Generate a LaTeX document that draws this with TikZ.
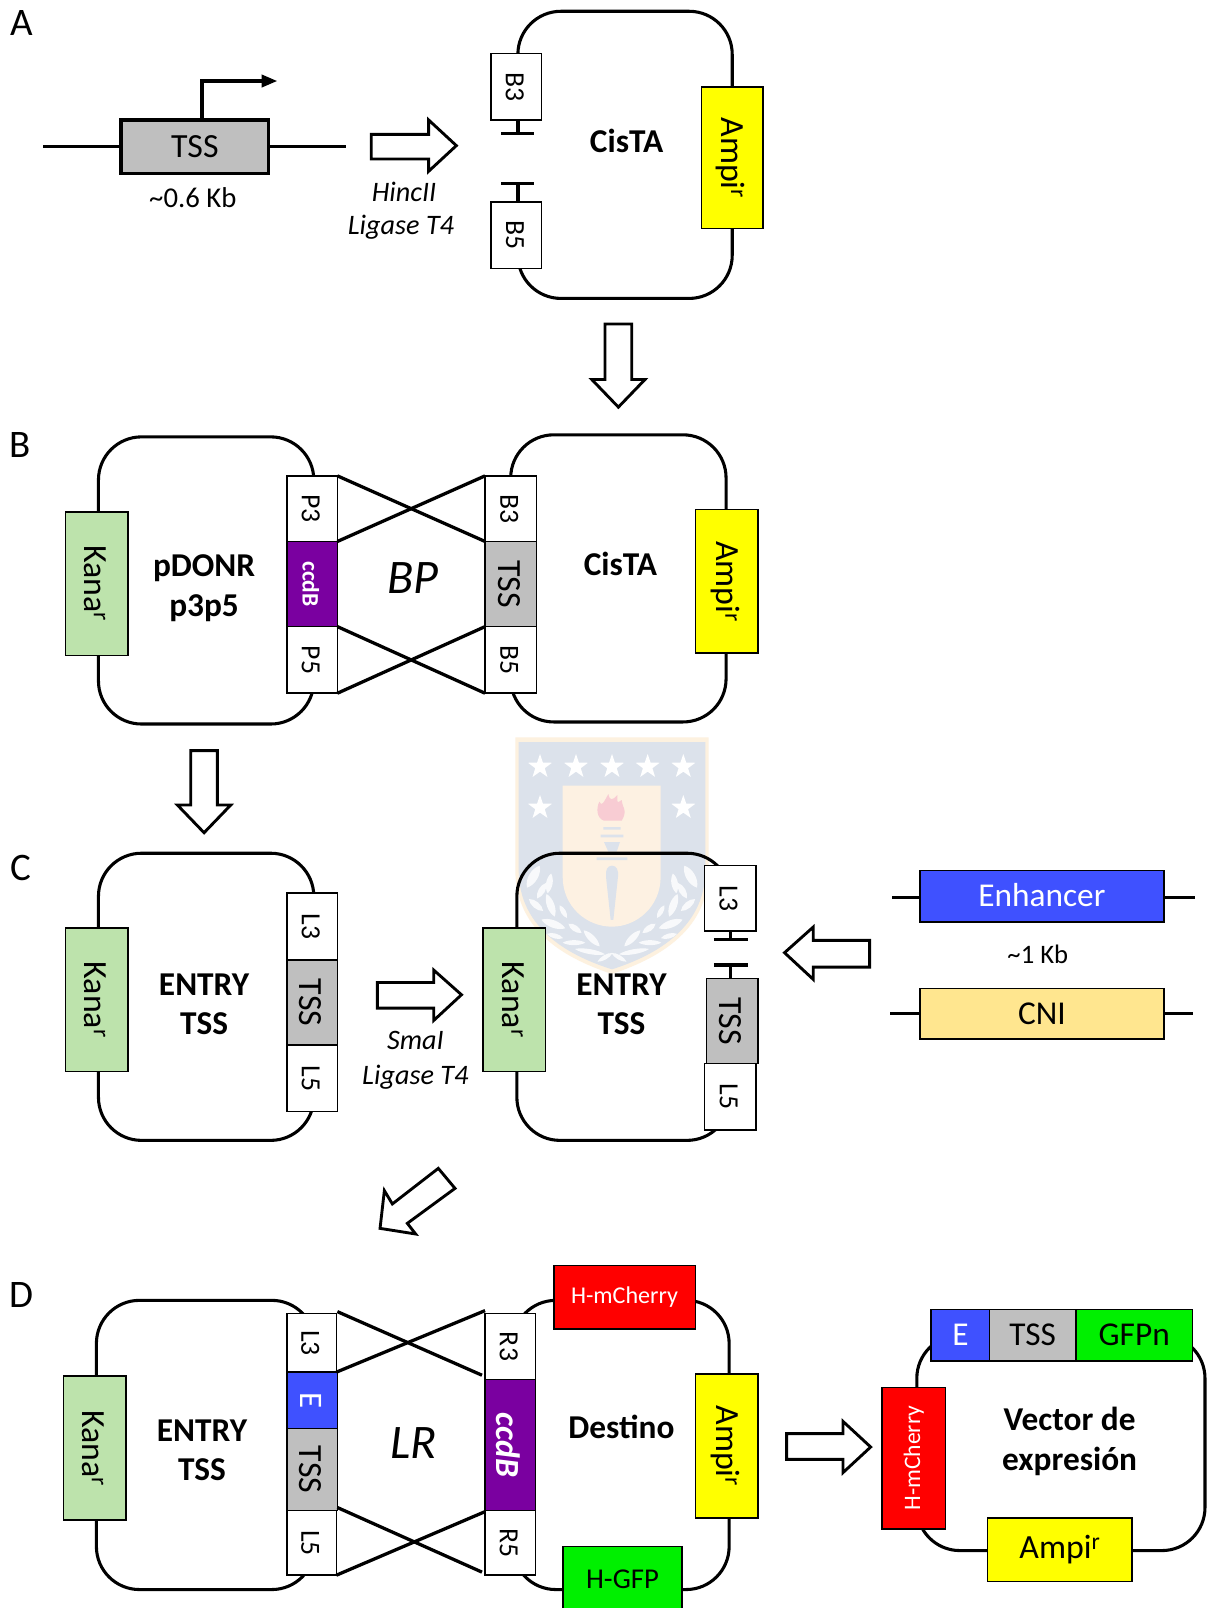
\documentclass[tikz,border=0pt]{standalone}
\usepackage{fontspec}
\usepackage{graphicx}
\setmainfont{Carlito}
\newcommand{\fsz}[1]{\fontsize{#1}{#1}\selectfont}
\newcommand{\rottext}[1]{\hspace*{-3pt}\rotatebox{-90}{#1}}
\newcommand{\rotup}[1]{\rotatebox{90}{#1}}
\newcommand{\mybox}[7]{%
  \pgfmathsetmacro\bxw{#4-#2}\pgfmathsetmacro\bxh{#5-#3}%
  \pgfmathsetmacro\bxx{(#2+#4)/2}\pgfmathsetmacro\bxy{(#3+#5)/2}%
  \node[box,minimum width=\bxw pt,minimum height=\bxh pt,#6] (#1) at (\bxx,\bxy) {#7};}
\newcommand{\wstar}[2]{\fill[white] (#1,#2) +(-90:38) -- +(-126:15) -- +(-162:38) -- +(-198:15) -- +(-234:38) -- +(-270:15) -- +(-306:38) -- +(-342:15) -- +(-18:38) -- +(-54:15) -- cycle;}
\newcommand{\leaf}[5]{\fill[white,opacity=.8,shift={(#1,#2)},rotate=#3] (-#4,0) .. controls (-#4/2,#5) and (#4/2,#5) .. (#4,0) .. controls (#4/2,-#5) and (-#4/2,-#5) .. (-#4,0) -- cycle;}
\newcommand{\laurel}{%
  \leaf{160}{470}{60}{38}{18}\leaf{208}{490}{80}{30}{13}\leaf{185}{512}{60}{27}{13}
  \leaf{212}{556}{-70}{36}{15}\leaf{168}{555}{-40}{28}{13}\leaf{250}{575}{-60}{22}{10}
  \leaf{220}{612}{-20}{38}{15}\leaf{285}{625}{-35}{24}{12}\leaf{225}{648}{-15}{25}{10}
  \leaf{335}{655}{-45}{34}{13}\leaf{282}{668}{0}{34}{10}\leaf{330}{695}{-10}{46}{10}
  \leaf{375}{712}{30}{26}{9}}
\definecolor{ggray}{HTML}{BFBFBF}
\definecolor{kana}{HTML}{BDE3AC}
\definecolor{ampi}{HTML}{FFFF00}
\definecolor{purp}{HTML}{7A00A0}
\definecolor{blu}{HTML}{3F51FF}
\definecolor{cni}{HTML}{FFE68F}
\definecolor{gfp}{HTML}{00F000}
\definecolor{wmo}{HTML}{FDF1DF}
\definecolor{wmb}{HTML}{DCE2EB}
\definecolor{wmc}{HTML}{FDF1E2}
\definecolor{wmf}{HTML}{F8CCD3}
\tikzset{
  box/.style={draw=black,line width=1.5pt,fill=white,inner sep=0pt,outer sep=0pt,font=\fsz{27}},
  plasmid/.style={draw=black,line width=3pt,fill=none,rounded corners=42pt},
  lab/.style={fill=ggray},
  kanabox/.style={fill=kana,font=\fsz{33}},
  ampibox/.style={fill=ampi,font=\fsz{33}},
  title/.style={font=\bfseries\fsz{32.5},inner sep=0pt},
  ital/.style={font=\itshape\fsz{27.5},inner sep=0pt},
  letter/.style={font=\fsz{38},inner sep=0pt},
  wire/.style={line width=3.2pt,line cap=butt},
  cross/.style={line width=3.2pt},
  bigarrow/.style={draw=black,line width=2.8pt,fill=white,line join=miter},
}
\begin{document}
\begin{tikzpicture}[x=1pt,y=-1pt]
\clip (0,0) rectangle (1177,1568);
\fill[white] (0,0) rectangle (1177,1568);
% watermark
\begin{scope}[shift={(468.07,702.1)},scale=0.325]
  \fill[wmo] (106,52) -- (686,52) -- (686,450) .. controls (686,640) and (520,720) .. (396,762) .. controls (270,720) and (106,640) .. (106,450) -- cycle;
  \fill[wmb] (116,66) -- (676,66) -- (676,450) .. controls (676,630) and (515,710) .. (396,748) .. controls (275,710) and (116,630) .. (116,450) -- cycle;
  \fill[wmc] (248,197) -- (542,197) -- (542,470) .. controls (542,560) and (470,620) .. (396,620) .. controls (320,620) and (248,560) .. (248,470) -- cycle;
  \wstar{180}{140}\wstar{288}{140}\wstar{396}{140}\wstar{503}{140}\wstar{610}{140}\wstar{180}{263}\wstar{610}{263}
  \fill[wmf] (372,302) .. controls (350,295) and (348,265) .. (358,245) .. controls (365,260) and (370,250) .. (385,222) .. controls (390,245) and (398,240) .. (412,225) .. controls (415,240) and (405,255) .. (425,240) .. controls (425,260) and (445,270) .. (425,302) -- cycle;
  \fill[wmb] (370,321) rectangle (422,329) (362,344) rectangle (430,352) (372,366) -- (420,366) -- (410,395) -- (385,395) -- cycle (350,412) rectangle (442,420);
  \fill[wmb] (396,437) .. controls (410,437) and (416,450) .. (414,470) -- (400,600) -- (392,600) -- (378,470) .. controls (376,450) and (382,437) .. (396,437) -- cycle;
  \laurel
  \begin{scope}[shift={(792,0)},xscale=-1]\laurel\end{scope}
\end{scope}

% Panel letters
\node[letter] (lA) at (21,22) {A};
\node[letter] (lB) at (20,434) {B};
\node[letter] (lC) at (20,846) {C};
\node[letter] (lD) at (21,1263) {D};

% Panel A
\coordinate (aL) at (42,143);
\coordinate (aR) at (337,143);
\coordinate (aUp) at (197,79);
\coordinate (aEnd) at (270,79);
\mybox{aTSS}{118}{117}{262}{169}{lab,line width=3.2pt,font=\fsz{33}}{TSS}
\draw[wire] (aL) -- (aTSS.west);
\draw[wire] (aTSS.east) -- (aR);
\draw[line width=3.2pt] (aTSS.north -| aUp) -- (aUp) -- (256,79);
\fill (255,72.5) -- (aEnd) -- (255,85.5) -- cycle;
\node[font=\fsz{28},inner sep=0pt] (a06) at (188,193) {\textasciitilde 0.6 Kb};
\draw[bigarrow] (362,131) -- (418,131) -- (418,117) -- (445,142) -- (418,167) -- (418,155) -- (362,155) -- cycle;
\node[ital] (aH) at (394,187) {HincII};
\node[ital] (aLi) at (391,222) {Ligase T4};
\mybox{aPl}{505}{11}{714}{291}{plasmid}{}
\fill[white] (500,117) rectangle (512,197);
\mybox{aB3}{479}{52}{528}{117}{}{\rottext{B3}}
\mybox{aB5}{479}{197}{528}{262}{}{\rottext{B5}}
\coordinate (aT1) at (505,130);
\coordinate (aT2) at (505,179);
\draw[wire] (505,117) -- (aT1);
\draw[wire] (505,197) -- (aT2);
\draw[wire] (489,130) -- (521,130);
\draw[wire] (489,179) -- (521,179);
\mybox{aAmp}{684}{85}{744}{223}{ampibox}{\rottext{Ampi\textsuperscript{r}}}
\node[title] (aCis) at (611,137) {CisTA};
\draw[bigarrow] (590,316) -- (616,316) -- (616,370) -- (629,370) -- (603,397) -- (577,370) -- (590,370) -- cycle;

% Panel B
\mybox{bPl}{96}{426}{306}{706}{plasmid}{}
\mybox{bKan}{64}{499}{125}{639}{kanabox}{\rottext{Kana\textsuperscript{r}}}
\mybox{bP3}{280}{464}{329}{528}{}{\rottext{P3}}
\mybox{bCcd}{280}{528}{329}{611}{fill=purp,text=white,font=\bfseries\fsz{23}}{\rottext{ccdB}}
\mybox{bP5}{280}{611}{329}{676}{}{\rottext{P5}}
\node[title] (bT1) at (199,554) {pDONR};
\node[title] (bT2) at (199,593) {p3p5};
\mybox{bPr}{498}{424}{708}{704}{plasmid}{}
\mybox{bB3}{473}{464}{523}{528}{}{\rottext{B3}}
\mybox{bTSS}{473}{528}{523}{611}{lab,font=\fsz{33}}{\rottext{TSS}}
\mybox{bB5}{473}{611}{523}{676}{}{\rottext{B5}}
\mybox{bAmp}{678}{497}{739}{637}{ampibox}{\rottext{Ampi\textsuperscript{r}}}
\node[title] (bCis) at (605,550) {CisTA};
\draw[cross] (bP3.north east) -- (bB3.south west);
\draw[cross] (bP3.south east) -- (bB3.north west);
\draw[cross] (bP5.north east) -- (bB5.south west);
\draw[cross] (bP5.south east) -- (bB5.north west);
\node[font=\itshape\fsz{47},inner sep=0pt] (bBP) at (403,564) {BP};
\draw[bigarrow] (186,732) -- (212,732) -- (212,785) -- (225,785) -- (199,812) -- (173,785) -- (186,785) -- cycle;

% Panel C
\mybox{cPl}{96}{832}{306}{1112}{plasmid}{}
\mybox{cKan}{64}{905}{125}{1045}{kanabox}{\rottext{Kana\textsuperscript{r}}}
\mybox{cL3}{280}{871}{329}{936}{}{\rottext{L3}}
\mybox{cTSS}{280}{936}{329}{1019}{lab,font=\fsz{33}}{\rottext{TSS}}
\mybox{cL5}{280}{1019}{329}{1084}{}{\rottext{L5}}
\node[title] (cT1) at (199,960) {ENTRY};
\node[title] (cT2) at (199,998) {TSS};
\draw[bigarrow] (368,958) -- (423,958) -- (423,946) -- (450,970) -- (423,995) -- (423,983) -- (368,983) -- cycle;
\node[ital] (cS) at (405,1015) {SmaI};
\node[ital] (cLi) at (405,1050) {Ligase T4};
\mybox{cPr}{504}{832}{712}{1112}{plasmid}{}
\mybox{cKr}{471}{905}{532}{1045}{kanabox}{\rottext{Kana\textsuperscript{r}}}
\fill[white] (704,908) rectangle (720,954);
\mybox{cL3r}{687}{844}{737}{908}{}{\rottext{L3}}
\mybox{cTr}{689}{954}{739}{1037}{lab,font=\fsz{33}}{\rottext{TSS}}
\mybox{cL5r}{687}{1037}{737}{1102}{}{\rottext{L5}}
\draw[wire] (712,908) -- (712,916);
\draw[wire] (712,954) -- (712,941);
\draw[wire] (696,916) -- (729,916);
\draw[wire] (696,941) -- (729,941);
\node[title] (cT3) at (606,960) {ENTRY};
\node[title] (cT4) at (606,998) {TSS};
\draw[bigarrow] (848,917) -- (793,917) -- (793,904) -- (765,929) -- (793,955) -- (793,943) -- (848,943) -- cycle;
\coordinate (eL) at (870,875.5);\coordinate (eR) at (1165,875.5);
\mybox{cEnh}{897}{849}{1135}{899}{fill=blu,text=white,font=\fsz{32.5}}{\raisebox{2pt}{Enhancer}}
\draw[wire] (eL) -- (eL -| cEnh.west);
\draw[wire] (eR -| cEnh.east) -- (eR);
\node[font=\fsz{26},inner sep=0pt] (c1k) at (1012,931) {\textasciitilde 1 Kb};
\coordinate (nL) at (868,988);\coordinate (nR) at (1163,988);
\mybox{cCni}{897}{964}{1135}{1013}{fill=cni,font=\fsz{32.5}}{CNI}
\draw[wire] (nL) -- (nL -| cCni.west);
\draw[wire] (nR -| cCni.east) -- (nR);
\draw[bigarrow] (427.4,1139.3) -- (443.7,1158.8) -- (397.2,1192.9) -- (405.3,1203.3) -- (370.6,1197.8) -- (374.8,1161) -- (382.6,1174) -- cycle;

% Panel D
\mybox{dPl}{94}{1268}{307}{1550}{plasmid}{}
\mybox{dKan}{62}{1342}{123}{1482}{kanabox}{\rottext{Kana\textsuperscript{r}}}
\mybox{dL3}{280}{1281}{328}{1338}{}{\rottext{L3}}
\mybox{dE}{280}{1338}{329}{1393}{fill=blu,text=white,font=\fsz{32}}{\rottext{E}}
\mybox{dTSS}{280}{1393}{329}{1473}{lab,font=\fsz{33}}{\rottext{TSS}}
\mybox{dL5}{280}{1473}{328}{1536}{}{\rottext{L5}}
\node[title] (dT1) at (197,1395) {ENTRY};
\node[title] (dT2) at (197,1433) {TSS};
\mybox{dPr}{500}{1268}{711}{1550}{plasmid}{}
\mybox{dR3}{473}{1281}{522}{1345}{}{\rottext{R3}}
\mybox{dCcd}{473}{1345}{522}{1473}{fill=purp,text=white,font=\bfseries\itshape\fsz{33}}{\rottext{ccdB}}
\mybox{dR5}{473}{1473}{522}{1536}{}{\rottext{R5}}
\mybox{dCh}{540}{1234}{678}{1296}{fill=red,text=white,font=\fsz{23.5}}{H-mCherry}
\mybox{dGfp}{549}{1508}{665}{1578}{fill=gfp,font=\fsz{28}}{\raisebox{6pt}{H-GFP}}
\mybox{dAmp}{678}{1340}{739}{1480}{ampibox}{\rottext{Ampi\textsuperscript{r}}}
\node[title] (dDes) at (606,1391) {Destino};
\coordinate (dc1) at (470,1341);\coordinate (dc2) at (473,1278);
\coordinate (dc3) at (470,1533);\coordinate (dc4) at (473,1474);
\coordinate (dc5) at (329,1279);\coordinate (dc6) at (329,1470);
\draw[cross] (dc5) -- (dc1);
\draw[cross] (dL3.south east) -- (dc2);
\draw[cross] (dc6) -- (dc3);
\draw[cross] (dL5.south east) -- (dc4);
\node[font=\itshape\fsz{47},inner sep=0pt] (dLR) at (403,1407) {LR};
\draw[bigarrow] (767,1398) -- (822,1398) -- (822,1386) -- (849,1411) -- (822,1436) -- (822,1423) -- (767,1423) -- cycle;
\mybox{vPl}{894}{1302}{1175}{1512}{plasmid}{}
\mybox{vE}{908}{1277}{965}{1327}{fill=blu,text=white,font=\fsz{32.5}}{E}
\mybox{vT}{965}{1277}{1049}{1327}{lab,font=\fsz{32.5}}{TSS}
\mybox{vG}{1049}{1277}{1163}{1327}{fill=gfp,font=\fsz{32.5}}{GFPn}
\mybox{vCh}{860}{1353}{922}{1491}{fill=red,text=white,font=\fsz{23}}{\rotup{H-mCherry}}
\mybox{vAmp}{963}{1480}{1104}{1542}{ampibox}{Ampi\textsuperscript{r}}
\node[title] (vT1) at (1043,1384) {Vector de};
\node[title] (vT2) at (1043,1425) {expresión};
\end{tikzpicture}
\end{document}
